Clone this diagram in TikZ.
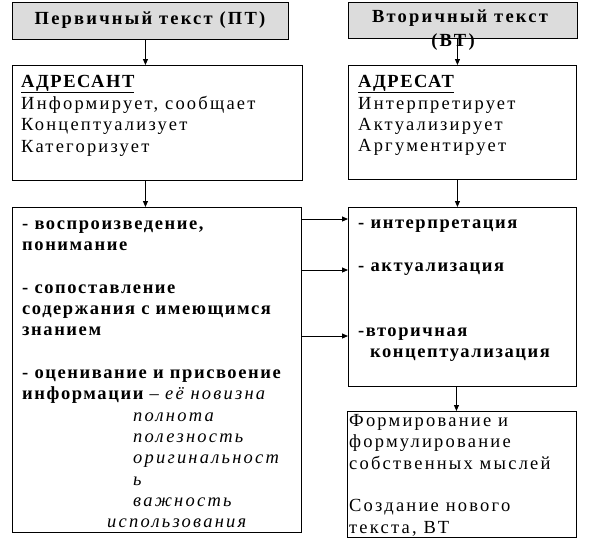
\documentclass[tikz,border=0pt]{standalone}
\usepackage{fontspec}
\setmainfont{Liberation Serif}
\newfontfamily\widefont[LetterSpace=12]{Liberation Serif}
\newfontfamily\boldwide[LetterSpace=8.5]{Liberation Serif}
\newfontfamily\headwide[LetterSpace=12]{Liberation Serif}
\usetikzlibrary{arrows.meta,calc}
\definecolor{hgrey}{RGB}{220,220,220}
\begin{document}
\begin{tikzpicture}[x=1pt,y=-1pt,
  box/.style={draw, line width=0.9pt, inner sep=0pt, anchor=north west},
  head/.style={box, fill=hgrey},
  arr/.style={line width=0.9pt, -{Triangle[length=6pt,width=5pt]}},
  tx/.style={anchor=base west, inner sep=0pt, font=\widefont\fontsize{18.5}{20}\selectfont},
  bt/.style={tx, font=\boldwide\bfseries\fontsize{18.5}{20}\selectfont},
  it/.style={tx, font=\widefont\itshape\fontsize{18.5}{20}\selectfont},
  ht/.style={tx, anchor=base, font=\headwide\bfseries\fontsize{18.5}{20}\selectfont},
]
\useasboundingbox (0,0) rectangle (589,542);
% boxes
\node[head, minimum width=276pt, minimum height=37pt] (h1) at (12,2) {};
\node[head, minimum width=229pt, minimum height=36pt] (h2) at (348,2) {};
\node[box, minimum width=290pt, minimum height=115pt] (b3) at (12,65) {};
\node[box, minimum width=228pt, minimum height=114pt] (b4) at (348,65) {};
\node[box, minimum width=289pt, minimum height=325pt] (b5) at (12,207) {};
\node[box, minimum width=228pt, minimum height=179pt] (b6) at (348,207) {};
\node[box, minimum width=229pt, minimum height=126pt] (b7) at (347,411) {};
% header texts
\node[ht] (h1t) at (150,24) {Первичный текст (ПТ)};
\node[ht] (h2t) at (460,22) {Вторичный текст};
\node[ht] (h2u) at (453,46) {(ВТ)};
% box 3
\node[bt] (a1) at (21,87) {\underline{АДРЕСАНТ}};
\node[tx] (a2) at (21,109) {Информирует, сообщает};
\node[tx] (a3) at (21,130) {Концептуализует};
\node[tx] (a4) at (21,152) {Категоризует};
% box 4
\node[bt] (c1) at (358,87) {\underline{АДРЕСАТ}};
\node[tx] (c2) at (358,109) {Интерпретирует};
\node[tx] (c3) at (358,130) {Актуализирует};
\node[tx] (c4) at (358,151) {Аргументирует};
% box 5
\node[bt] (p1) at (22,229) {- воспроизведение,};
\node[bt] (p2) at (22,250) {понимание};
\node[bt] (p3) at (22,293) {- сопоставление};
\node[bt] (p4) at (22,314) {содержания с имеющимся};
\node[bt] (p5) at (22,335) {знанием};
\node[bt] (p6) at (22,378) {- оценивание и присвоение};
\node[bt] (p7) at (22,399) {информации {\widefont\mdseries –} {\widefont\mdseries\itshape её новизна}};
\node[it] (p8) at (133,421) {полнота};
\node[it] (p9) at (133,442) {полезность};
\node[it] (p10) at (133,463) {оригинальност};
\node[it] (p11) at (133,485) {ь};
\node[it] (p12) at (133,506) {важность};
\node[it] (p13) at (107,527) {использования};
% box 6
\node[bt] (s1) at (358,228) {- интерпретация};
\node[bt] (s2) at (358,271) {- актуализация};
\node[bt] (s3) at (358,336) {-вторичная};
\node[bt] (s4) at (370,357) {концептуализация};
% box 7
\node[tx] (f1) at (349,426) {Формирование и};
\node[tx] (f2) at (349,447) {формулирование};
\node[tx] (f3) at (349,469) {собственных мыслей};
\node[tx] (f4) at (349,511) {Создание нового};
\node[tx] (f5) at (349,533) {текста, ВТ};
% connectors
\draw[arr] ([xshift=-5pt]h1.south) -- ([xshift=-5pt]h1.south |- b3.north);
\draw[arr] ([xshift=-12pt]b3.south) -- ([xshift=-12pt]b3.south |- b5.north);
\draw[arr] ([xshift=-5.5pt]h2.south) -- ([xshift=-5.5pt]h2.south |- b4.north);
\draw[arr] ([xshift=-5pt]b4.south) -- ([xshift=-5pt]b4.south |- b6.north);
\draw[arr] ([xshift=-6pt]b6.south) -- ([xshift=-6pt]b6.south |- b7.north);
\draw[arr] (b5.east |- 0,219) -- (b6.west |- 0,219);
\draw[arr] (b5.east |- 0,270) -- (b6.west |- 0,270);
\draw[arr] (b5.east |- 0,336) -- (b6.west |- 0,336);
\end{tikzpicture}
\end{document}
